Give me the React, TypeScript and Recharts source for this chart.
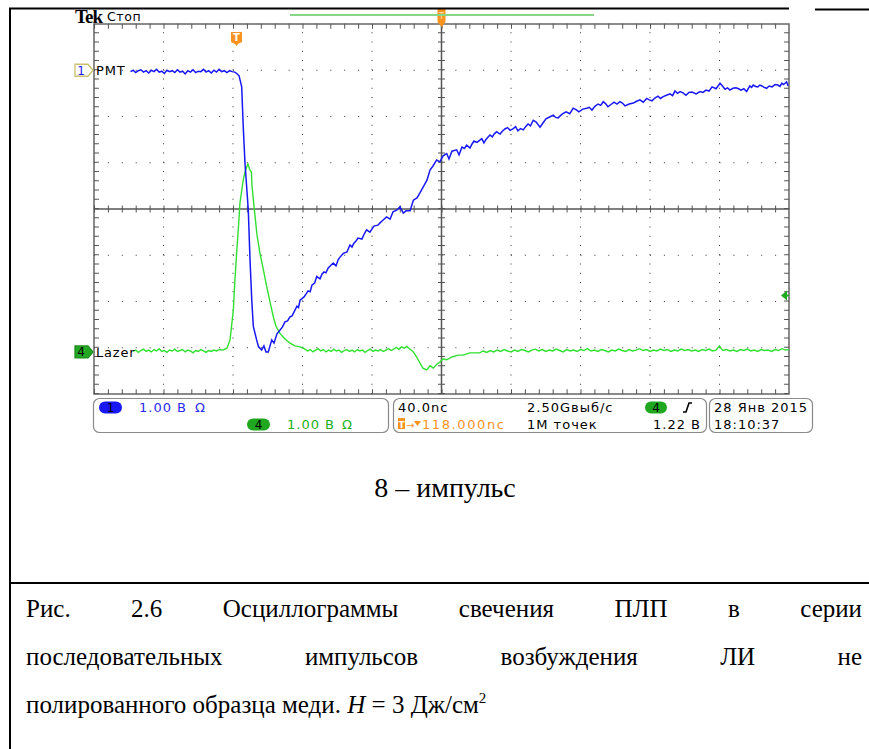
import React from 'react';
import { LineChart, Line, XAxis, YAxis, ReferenceLine, ReferenceArea, ReferenceDot } from 'recharts';

// screen time in ns (40 ns/div, 10 div) and volts in screen divisions (1 V/div, 8 div)
const timeDomain = [0, 400];
const voltDomain = [-4, 4];
const gridTimes = [40, 80, 120, 160, 240, 280, 320, 360];
const gridVolts = [-3, -2, -1, 1, 2, 3];
const centerTime = 200;
const triggerTime = 82;
const pmtLevel = 3;
const lazerLevel = -3.09;
const triggerLevel = -1.87;

// CH1 "PMT" trace, [t, v]
const pmtTrace: [number, number][] = [
    [21, 2.97], [22.5, 3.0], [24, 2.95], [25.5, 2.99], [27, 3.01], [28.5, 2.96], [30, 2.99], [31.5, 2.94],
    [33, 3.0], [34.5, 2.97], [36, 3.02], [37.5, 2.96], [39, 2.98], [40.5, 2.93], [42, 3.0], [43.5, 2.97],
    [45, 2.99], [46.5, 2.95], [48, 3.01], [49.5, 2.96], [51, 2.98], [52.5, 2.92], [54, 2.99], [55.5, 2.96],
    [57, 3.01], [58.5, 2.95], [60, 2.98], [61.5, 2.97], [63, 3.02], [64.5, 2.96], [66, 2.99], [67.5, 2.94],
    [69, 3.0], [70.5, 2.96], [72, 3.02], [73.5, 2.97], [75, 2.99], [76.5, 2.95], [78, 2.99], [79.5, 2.97],
    [81, 2.96], [82.1, 2.93], [83.5, 2.88], [85, 2.64], [85.9, 1.78], [86.9, 0.99], [88.8, -0.02],
    [89.8, -1.1], [90.8, -1.97], [91.7, -2.54], [93.6, -2.83], [94.7, -2.98], [96.5, -3.05], [97.8, -2.96],
    [99, -3.09], [100.3, -3.09], [102.3, -2.83], [103.6, -2.9], [105.3, -2.7], [107, -2.62], [108.5, -2.55],
    [109.9, -2.44], [111.4, -2.42], [112.8, -2.33], [114, -2.31], [115.1, -2.23], [116.8, -2.1], [117.7, -2.13],
    [118.6, -1.97], [120.9, -1.9], [122, -1.84], [123.2, -1.77], [124.4, -1.79], [125.5, -1.64], [127, -1.6],
    [128.2, -1.46], [130.1, -1.51], [131.2, -1.41], [132.4, -1.36], [133.5, -1.38], [134.7, -1.28],
    [136.2, -1.22], [137.7, -1.17], [139.3, -1.23], [140.5, -1.1], [141.6, -1.04], [143.5, -0.96],
    [145.6, -0.93], [147.3, -0.78], [148.5, -0.82], [149.6, -0.74], [150.8, -0.69], [151.9, -0.63],
    [154.2, -0.65], [155.5, -0.54], [156.9, -0.45], [158.8, -0.5], [161.1, -0.37], [163.4, -0.35],
    [164.6, -0.3], [165.8, -0.26], [168.4, -0.17], [170.4, -0.22], [172.1, -0.06], [174.4, -0.02], [176.1, 0.05],
    [178, -0.09], [179.6, -0.04], [181.9, -0.04], [183.8, 0.19], [185.9, 0.24], [187.6, 0.35], [189.5, 0.48],
    [191.7, 0.63], [193.4, 0.84], [195.1, 0.93], [197.2, 1.06], [199.1, 1.02], [200.9, 1.15], [203, 1.2],
    [204.3, 1.08], [206, 1.25], [208.7, 1.28], [210.1, 1.17], [211.8, 1.34], [213.2, 1.31], [214.5, 1.38],
    [216.4, 1.32], [217.5, 1.4], [218.7, 1.47], [220.4, 1.44], [222.1, 1.49], [223.2, 1.52], [224.4, 1.43],
    [225.5, 1.5], [226.7, 1.55], [227.9, 1.6], [229.2, 1.56], [230.5, 1.63], [231.8, 1.67], [232.8, 1.64],
    [233.7, 1.62], [235, 1.68], [236.5, 1.73], [238, 1.76], [239.5, 1.7], [241.3, 1.74], [242.6, 1.78],
    [244, 1.69], [245.5, 1.74], [247.1, 1.71], [248.4, 1.78], [249.8, 1.84], [251.2, 1.8], [252.8, 1.92],
    [254.5, 1.88], [256.7, 1.77], [258.4, 1.86], [260.1, 1.95], [262.2, 1.99], [264.3, 2.03], [265.7, 1.98],
    [267.1, 1.97], [269.4, 2.05], [271.7, 2.1], [273.8, 2.06], [275.8, 2.18], [277.4, 2.15], [279.1, 2.1],
    [281.3, 2.16], [283.6, 2.18], [285, 2.2], [286.6, 2.14], [288.3, 2.22], [290.1, 2.27], [291.6, 2.24],
    [293.1, 2.32], [294.4, 2.28], [295.8, 2.21], [297.5, 2.26], [299.3, 2.31], [301, 2.27], [302.7, 2.32],
    [304.1, 2.29], [305.6, 2.23], [308, 2.27], [310.4, 2.29], [312.3, 2.33], [314.2, 2.36], [316.1, 2.31],
    [318.1, 2.39], [319.6, 2.36], [321.1, 2.34], [322.8, 2.4], [324.6, 2.44], [326.1, 2.39], [327.6, 2.43],
    [329.5, 2.46], [331.5, 2.49], [333, 2.45], [334.4, 2.55], [335.8, 2.5], [337.3, 2.54], [339, 2.51],
    [340.7, 2.46], [342.4, 2.52], [344.2, 2.53], [346.5, 2.49], [348.8, 2.54], [350.5, 2.52], [352.3, 2.57],
    [354, 2.55], [355.7, 2.64], [358, 2.6], [360.3, 2.72], [361.7, 2.66], [363.2, 2.59], [364.6, 2.62],
    [366, 2.57], [367.7, 2.61], [369.5, 2.62], [371, 2.6], [372.4, 2.57], [374, 2.6], [375.6, 2.54],
    [376.5, 2.6], [377.5, 2.66], [378.5, 2.63], [379.4, 2.68], [380.8, 2.65], [382.1, 2.64], [383.2, 2.68],
    [384.4, 2.66], [385.7, 2.63], [387.1, 2.61], [388.6, 2.66], [390.2, 2.64], [392, 2.69], [393.6, 2.68],
    [394.8, 2.65], [395.9, 2.72], [396.8, 2.69], [397.7, 2.72], [398.6, 2.75], [399.5, 2.66],
];

// CH4 "Lazer" trace, [t, v]
const lazerTrace: [number, number][] = [
    [22.5, -3.08], [24, -3.05], [25.5, -3.1], [27, -3.06], [28.5, -3.03], [30, -3.08], [31.5, -3.05],
    [33, -3.09], [34.5, -3.04], [36, -3.07], [37.5, -3.02], [39, -3.08], [40.5, -3.06], [42, -3.1],
    [43.5, -3.05], [45, -3.07], [46.5, -3.03], [48, -3.08], [49.5, -3.06], [51, -3.04], [52.5, -3.09],
    [54, -3.05], [55.5, -3.07], [57, -3.11], [58.5, -3.06], [60, -3.08], [61.5, -3.04], [63, -3.07],
    [64.5, -3.1], [66, -3.06], [67.5, -3.08], [69, -3.05], [70.5, -3.07], [72, -3.04], [74.2, -3.05],
    [76.5, -3.01], [78.3, -2.83], [80.2, -2.18], [81.1, -1.54], [82.1, -0.95], [83.2, -0.35], [84, 0.13],
    [85.9, 0.63], [86.9, 0.8], [87.9, 0.91], [88.6, 0.97], [89.8, 0.84], [90.6, 0.8], [90.9, 0.52],
    [92.3, -0.02], [93.8, -0.56], [95.5, -0.95], [97.3, -1.28], [99.4, -1.68], [101.3, -2.01],
    [103.2, -2.33], [104.7, -2.53], [107, -2.69], [109.9, -2.81], [112.8, -2.9], [115.7, -2.96],
    [118.6, -2.98], [121.4, -3.03], [123, -3.07], [124.5, -3.04], [126, -3.09], [127.5, -3.05], [129, -3.02],
    [130.5, -3.07], [132, -3.04], [133.5, -3.09], [135, -3.05], [136.5, -3.08], [138, -3.03], [139.5, -3.07],
    [141, -3.05], [142.5, -3.1], [144, -3.06], [145.5, -3.04], [147, -3.08], [148.5, -3.05], [150, -3.09],
    [151.5, -3.04], [153, -3.07], [154.5, -3.05], [156, -3.1], [157.5, -3.06], [159, -3.03], [160.5, -3.08],
    [162, -3.05], [163.5, -3.07], [165, -3.04], [166.5, -3.08], [168, -3.05], [169.5, -3.02], [171, -3.06],
    [172.5, -3.03], [174, -2.99], [175.5, -3.04], [177, -2.98], [178.5, -3.01], [180, -2.97], [181.5, -3.02],
    [182.5, -3.05], [183.8, -3.09], [185.7, -3.2], [187.6, -3.33], [189.3, -3.44], [191.5, -3.48],
    [193.4, -3.39], [195.3, -3.44], [197.4, -3.35], [199.1, -3.31], [200.9, -3.24], [203, -3.26],
    [206, -3.2], [209.5, -3.16], [212.4, -3.16], [216.4, -3.11], [222, -3.11], [224, -3.07], [226, -3.1],
    [228, -3.06], [230, -3.09], [232, -3.05], [234, -3.08], [236, -3.04], [238, -3.07], [240, -3.09],
    [242, -3.05], [244, -3.08], [246, -3.04], [248, -3.06], [250, -3.09], [252, -3.05], [254, -3.03],
    [256, -3.07], [258, -3.04], [260, -3.08], [262, -3.05], [264, -3.07], [266, -3.03], [268, -3.06],
    [270, -3.09], [272, -3.04], [274, -3.07], [276, -3.05], [278, -3.08], [280, -3.04], [282, -3.06],
    [284, -3.02], [286, -3.07], [288, -3.05], [290, -3.08], [292, -3.04], [294, -3.06], [296, -3.09],
    [298, -3.05], [300, -3.07], [302, -3.03], [304, -3.06], [306, -3.08], [308, -3.04], [310, -3.07],
    [312, -3.05], [314, -3.02], [316, -3.06], [318, -3.04], [320, -3.08], [322, -3.05], [324, -3.07],
    [326, -3.03], [328, -3.06], [330, -3.04], [332, -3.08], [334, -3.05], [336, -3.07], [338, -3.03],
    [340, -3.06], [342, -3.04], [344, -3.07], [346, -3.05], [348, -3.08], [350, -3.04], [352, -3.06],
    [354, -3.03], [356, -3.07], [358, -3.05], [360, -2.96], [361, -3.02], [362, -3.06], [364, -3.04],
    [366, -3.07], [368, -3.05], [370, -3.08], [372, -3.04], [374, -3.06], [376, -3.03], [378, -3.07],
    [380, -3.05], [382, -3.08], [384, -3.04], [386, -3.06], [388, -3.05], [390, -3.08], [392, -3.04],
    [394, -3.06], [396, -3.02], [398, -3.05], [400, -3.04],
];

const pmtData = pmtTrace.map(([t, v]) => ({ t, v }));
const lazerData = lazerTrace.map(([t, v]) => ({ t, v }));

const ORANGE = '#f7931e';
const BLUE = '#1818f4';
const GREEN = '#30e030';
const SANS = '"DejaVu Sans", sans-serif';
const SERIF = '"Liberation Serif", "Times New Roman", serif';

const ChannelMark = ({ cx, cy, label, name, filled }: any) => (
    <g>
        <path
            d={`M${cx - 19},${cy - 6} h13 l5,6 l-5,6 h-13 z`}
            fill={filled ? '#22a822' : '#fff'}
            stroke={filled ? '#1c8f1c' : '#c9c070'}
            strokeWidth={1.3}
        />
        <text x={cx - 13} y={cy + 4.5} fontSize={12} fontFamily={SANS} fill={filled ? '#000' : BLUE} textAnchor="middle">
            {label}
        </text>
        <text x={cx + 2} y={cy + 5} fontSize={13} fontFamily={SANS} letterSpacing={0.8} fill="#000">
            {name}
        </text>
    </g>
);

const Scope = () => (
    <LineChart
        width={869}
        height={440}
        margin={{ top: 24, right: 80, bottom: 46, left: 94 }}
        style={{ position: 'absolute', left: 0, top: 0 }}
    >
        <XAxis type="number" dataKey="t" domain={timeDomain} hide allowDataOverflow />
        <YAxis type="number" domain={voltDomain} hide allowDataOverflow />
        {gridTimes.map((t) => (
            <ReferenceLine key={'gx' + t} x={t} stroke="#333" strokeDasharray="1 8.25" />
        ))}
        {gridVolts.map((v) => (
            <ReferenceLine key={'gy' + v} y={v} stroke="#333" strokeDasharray="1 12.9" />
        ))}
        {/* centre cross with minor ticks */}
        <ReferenceLine x={centerTime} stroke="#555" strokeWidth={1.5} />
        <ReferenceLine y={0} stroke="#555" strokeWidth={1.5} />
        <ReferenceLine x={centerTime} stroke="#555" strokeWidth={7} strokeDasharray="1 8.25" />
        <ReferenceLine y={0} stroke="#555" strokeWidth={7} strokeDasharray="1 12.9" />
        {/* frame ticks */}
        <ReferenceLine x={1.4} stroke="#555" strokeWidth={5} strokeDasharray="1 8.25" />
        <ReferenceLine x={398.6} stroke="#555" strokeWidth={5} strokeDasharray="1 8.25" />
        <ReferenceLine y={3.95} stroke="#555" strokeWidth={5} strokeDasharray="1 12.9" />
        <ReferenceLine y={-3.95} stroke="#555" strokeWidth={5} strokeDasharray="1 12.9" />
        <ReferenceArea x1={0} x2={400} y1={-4} y2={4} fill="none" stroke="#666" strokeWidth={1.5} />

        <Line data={lazerData} dataKey="v" type="linear" stroke={GREEN} strokeWidth={1.4} dot={false} isAnimationActive={false} />
        <Line data={pmtData} dataKey="v" type="linear" stroke={BLUE} strokeWidth={1.5} dot={false} isAnimationActive={false} />

        <ReferenceDot x={0} y={pmtLevel} r={0} shape={(p: any) => <ChannelMark {...p} label="1" name="PMT" />} />
        <ReferenceDot x={0} y={lazerLevel} r={0} shape={(p: any) => <ChannelMark {...p} label="4" name="Lazer" filled />} />
        <ReferenceDot
            x={triggerTime}
            y={4}
            r={0}
            shape={({ cx, cy }: any) => (
                <g>
                    <path d={`M${cx - 5.5},${cy + 8} h11 v10 l-4,2 l-1.5,2 l-1.5,-2 l-4,-2 z`} fill={ORANGE} />
                    <text x={cx} y={cy + 17} fontSize={10} fontWeight="bold" fontFamily={SANS} fill="#fff" textAnchor="middle">T</text>
                </g>
            )}
        />
        <ReferenceDot
            x={centerTime}
            y={4}
            r={0}
            shape={({ cx, cy }: any) => (
                <g>
                    <path d={`M${cx - 4},${cy - 15} h8 v13 l-4,5 l-4,-5 z`} fill={ORANGE} />
                    <text x={cx} y={cy - 5} fontSize={9} fontFamily={SANS} fill="#fde0b0" textAnchor="middle">T</text>
                </g>
            )}
        />
        <ReferenceDot
            x={400}
            y={triggerLevel}
            r={0}
            shape={({ cx, cy }: any) => (
                <g>
                    <path d={`M${cx - 8},${cy} l6,-5 v10 z`} fill="#22a822" />
                    <line x1={cx - 3} x2={cx} y1={cy} y2={cy} stroke="#22a822" strokeWidth={2} />
                </g>
            )}
        />
    </LineChart>
);

const st = { fontFamily: SANS, fontSize: 13, letterSpacing: 1 } as const;

const Overlay = () => (
    <svg width={869} height={749} style={{ position: 'absolute', left: 0, top: 0, pointerEvents: 'none' }}>
        {/* page borders */}
        <line x1={10} x2={10} y1={8} y2={749} stroke="#000" strokeWidth={2} />
        <line x1={9} x2={789} y1={8.5} y2={8.5} stroke="#000" strokeWidth={2} />
        <line x1={815} x2={869} y1={9.5} y2={9.5} stroke="#000" strokeWidth={2} />
        <line x1={9} x2={869} y1={583} y2={583} stroke="#000" strokeWidth={2} />

        {/* header */}
        <text x={75} y={22.5} fontFamily={SERIF} fontWeight="bold" fontSize={19} letterSpacing={-0.9}>Tek</text>
        <text x={107} y={21} fontFamily={SANS} fontSize={12.5} letterSpacing={0.6}>Стоп</text>
        <line x1={290} x2={594} y1={15} y2={15} stroke="#86d686" strokeWidth={2} />

        {/* status panel */}
        <rect x={93.5} y={398.5} width={295} height={34} rx={6} fill="none" stroke="#8a8a8a" strokeWidth={1.2} />
        <rect x={393.5} y={398.5} width={313} height={34} rx={6} fill="none" stroke="#8a8a8a" strokeWidth={1.2} />
        <rect x={709.5} y={398.5} width={103} height={34} rx={6} fill="none" stroke="#8a8a8a" strokeWidth={1.2} />

        <rect x={99} y={401.5} width={23} height={12} rx={6} fill={BLUE} />
        <text x={110.5} y={412} fontFamily={SANS} fontSize={12} textAnchor="middle">1</text>
        <text x={139} y={412} style={st} fill="#2a2aee">1.00 В</text>
        <text x={195} y={412} style={st} fill="#2a2aee">Ω</text>

        <rect x={247} y={418.5} width={23} height={12} rx={6} fill="#1fa81f" />
        <text x={258.5} y={429} fontFamily={SANS} fontSize={12} textAnchor="middle">4</text>
        <text x={287} y={429} style={st} fill="#22b022">1.00 В</text>
        <text x={342} y={429} style={st} fill="#22b022">Ω</text>

        <text x={398} y={412} style={st}>40.0nс</text>
        <text x={527} y={412} style={st}>2.50Gвыб/с</text>
        <rect x={645} y={401.5} width={22} height={12} rx={6} fill="#1fa81f" />
        <text x={656} y={412} fontFamily={SANS} fontSize={12} textAnchor="middle">4</text>
        <path d="M683,412 h3 l3,-9 h3" fill="none" stroke="#000" strokeWidth={1.6} />

        <rect x={398} y={418} width={7} height={11} fill={ORANGE} />
        <text x={401.5} y={427.5} fontFamily={SANS} fontSize={9} fontWeight="bold" fill="#fff" textAnchor="middle">T</text>
        <text x={406} y={428.5} fontFamily={SANS} fontSize={10} fill={ORANGE}>→</text>
        <path d="M414,421 h7 l-3.5,5 z" fill={ORANGE} />
        <text x={422} y={428.5} style={{ ...st, letterSpacing: 1.6 }} fill={ORANGE}>118.000nс</text>
        <text x={527} y={428.5} style={st}>1M точек</text>
        <text x={653} y={428.5} style={st}>1.22 В</text>

        <text x={714} y={412} style={st}>28 Янв 2015</text>
        <text x={714} y={428.5} style={st}>18:10:37</text>

        {/* sub-caption */}
        <text x={445} y={497} fontFamily={SERIF} fontSize={28} textAnchor="middle">
            8 – импульс
        </text>
    </svg>
);

const capLine = {
    position: 'absolute' as const,
    left: 26,
    width: 836,
    fontFamily: SERIF,
    fontSize: 25,
    lineHeight: 1,
    whiteSpace: 'nowrap' as const,
};

export default function App() {
    return (
        <div style={{ position: 'absolute', left: 0, top: 0, width: 869, height: 749, background: '#fff', overflow: 'hidden' }}>
            <Scope />
            <Overlay />
            <div style={{ ...capLine, top: 596, textAlign: 'justify', textAlignLast: 'justify', whiteSpace: 'normal' }}>
                Рис. 2.6 Осциллограммы свечения ПЛП в серии
            </div>
            <div style={{ ...capLine, top: 644, textAlign: 'justify', textAlignLast: 'justify', whiteSpace: 'normal' }}>
                последовательных импульсов возбуждения ЛИ не
            </div>
            <div style={{ ...capLine, top: 692 }}>
                полированного образца меди. <i>H</i> = 3 Дж/см
                <span style={{ fontSize: 15, position: 'relative', top: -10 }}>2</span>
            </div>
        </div>
    );
}
